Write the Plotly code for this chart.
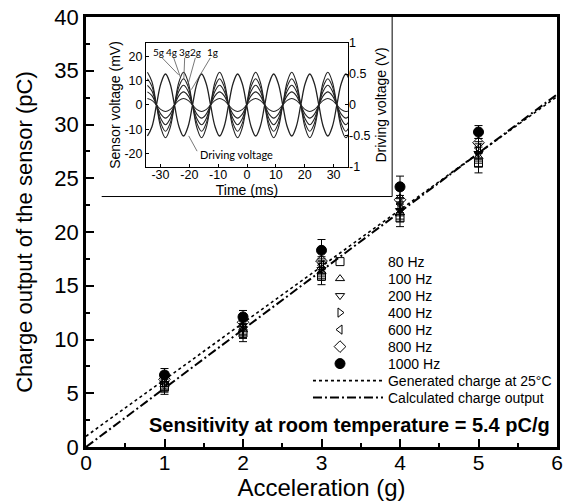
import plotly.graph_objects as go

# ---------------- main chart data ----------------
accel = [1, 2, 3, 4, 5]
freq_names = ["80 Hz", "100 Hz", "200 Hz", "400 Hz", "600 Hz", "800 Hz", "1000 Hz"]
charge_80 = [5.6, 10.6, 15.9, 21.3, 26.4]
charge_100 = [5.8, 10.9, 16.3, 21.8, 27.0]
charge_200 = [5.9, 11.0, 16.5, 22.0, 27.3]
charge_400 = [6.0, 11.2, 16.7, 22.3, 27.5]
charge_600 = [6.1, 11.3, 16.9, 22.6, 27.8]
charge_800 = [6.3, 11.6, 17.3, 23.0, 28.3]
charge_1000 = [6.7, 12.1, 18.3, 24.2, 29.3]
err_80 = [0.7, 0.8, 0.8, 0.8, 0.9]
err_100 = [0.7, 0.8, 0.8, 0.8, 0.9]
err_200 = [0.7, 0.8, 0.8, 0.8, 0.9]
err_400 = [0.7, 0.8, 0.8, 0.8, 0.9]
err_600 = [0.7, 0.8, 0.8, 0.8, 0.9]
err_800 = [0.7, 0.8, 0.8, 0.9, 0.9]
err_1000 = [0.6, 0.6, 1.0, 1.0, 0.6]

line_names = ["Generated charge at 25°C", "Calculated charge output"]
line_x = [0, 6]
generated_y = [1.0, 32.6]
calculated_y = [0.0, 32.8]

# ---------------- inset data ----------------
time_ms = [-34.50, -32.94, -31.38, -29.81, -28.25, -26.69, -25.13, -23.56,
           -22.00, -20.44, -18.88, -17.31, -15.75, -14.19, -12.63, -11.06,
           -9.50, -7.94, -6.38, -4.81, -3.25, -1.69, -0.13, 1.44,
           3.00, 4.56, 6.13, 7.69, 9.25, 10.81, 12.38, 13.94,
           15.50, 17.06, 18.63, 20.19, 21.75, 23.31, 24.88, 26.44,
           28.00, 29.56, 31.13, 32.69, 34.25, 35.81]
sensor_shape = [1, .71, 0, -.71, -1, -.71, 0, .71,
                1, .71, 0, -.71, -1, -.71, 0, .71,
                1, .71, 0, -.71, -1, -.71, 0, .71,
                1, .71, 0, -.71, -1, -.71, 0, .71,
                1, .71, 0, -.71, -1, -.71, 0, .71,
                1, .71, 0, -.71, -1, -.71]
sensor_amp_mV = [2.7, 5.4, 8.1, 10.8, 13.5]   # 1g .. 5g
driving_V = [-.5, -.35, 0, .35, .5, .35, 0, -.35,
             -.5, -.35, 0, .35, .5, .35, 0, -.35,
             -.5, -.35, 0, .35, .5, .35, 0, -.35,
             -.5, -.35, 0, .35, .5, .35, 0, -.35,
             -.5, -.35, 0, .35, .5, .35, 0, -.35,
             -.5, -.35, 0, .35, .5, .35]
g_labels = ["5g", "4g", "3g", "2g", "1g"]
g_label_t = [-30.5, -26.3, -21.6, -17.7, -12.1]

FONT = "Liberation Sans, Arial, sans-serif"
LABEL_FONT = "Lato, Noto Sans, sans-serif"
series = [charge_80, charge_100, charge_200, charge_400, charge_600, charge_800, charge_1000]
errors = [err_80, err_100, err_200, err_400, err_600, err_800, err_1000]
symbols = ["square-open", "triangle-up-open", "triangle-down-open", "triangle-right-open",
           "triangle-left-open", "diamond-open", "circle"]
sizes = [8, 8, 8, 8, 8, 9, 10]

# one legend box per entry so the entries can sit 17 px apart as in the original
legend_ids = ["legend"] + ["legend%d" % i for i in range(2, 10)]
legend_rows_px = [262, 279, 296, 313, 330, 347, 364, 381, 398]

fig = go.Figure()

fig.add_trace(go.Scatter(x=line_x, y=generated_y, mode="lines", name=line_names[0],
                         line=dict(color="black", width=1.6, dash="dot"), legend=legend_ids[7]))
fig.add_trace(go.Scatter(x=line_x, y=calculated_y, mode="lines", name=line_names[1],
                         line=dict(color="black", width=2, dash="9px,3px,2px,3px"), legend=legend_ids[8]))

for i, (name, ys, es, sym, sz) in enumerate(zip(freq_names, series, errors, symbols, sizes)):
    fig.add_trace(go.Scatter(
        x=accel, y=ys, mode="markers", name=name,
        marker=dict(symbol=sym, size=sz, color="black", line=dict(color="black", width=1)),
        error_y=dict(type="data", array=es, color="black", thickness=1, width=4),
        legend=legend_ids[i]))

# inset traces
for amp in sensor_amp_mV:
    fig.add_trace(go.Scatter(x=time_ms, y=[amp * s for s in sensor_shape], mode="lines",
                             line=dict(color="#222", width=1.1, shape="spline", smoothing=1.1),
                             xaxis="x2", yaxis="y2", showlegend=False, hoverinfo="skip"))
fig.add_trace(go.Scatter(x=time_ms, y=driving_V, mode="lines",
                         line=dict(color="#222", width=1.3, shape="spline", smoothing=1.1),
                         xaxis="x2", yaxis="y3", showlegend=False, hoverinfo="skip"))

axis_common = dict(showline=True, linecolor="black", mirror=True, showgrid=False, zeroline=False,
                   ticks="inside", tickcolor="black", automargin=False)

PLOT_TOP, PLOT_BOTTOM = 17, 447
legend_layout = {}
for k, (lid, row) in enumerate(zip(legend_ids, legend_rows_px)):
    is_marker_entry = k < len(freq_names)
    legend_layout[lid] = dict(x=0.4374 if is_marker_entry else 0.4713, xanchor="left",
                              y=(PLOT_BOTTOM - row) / (PLOT_BOTTOM - PLOT_TOP),
                              yanchor="middle", itemwidth=86 if is_marker_entry else 70,
                              bgcolor="rgba(0,0,0,0)", font=dict(size=14), tracegroupgap=0)

fig.update_layout(
    width=569, height=504,
    margin=dict(l=86, r=12, t=PLOT_TOP, b=504 - PLOT_BOTTOM),
    paper_bgcolor="white", plot_bgcolor="white",
    font=dict(family=FONT, color="black"),
    xaxis=dict(**axis_common, range=[0, 6], dtick=1, linewidth=2.5, ticklen=8, tickwidth=2,
               minor=dict(dtick=0.5, ticklen=4, tickwidth=1.5, ticks="inside", tickcolor="black"),
               tickfont=dict(size=21), ticklabelstandoff=-5,
               title=dict(text="Acceleration (g)", font=dict(size=24), standoff=6)),
    yaxis=dict(**axis_common, range=[0, 40], dtick=5, linewidth=2.5, ticklen=8, tickwidth=2,
               minor=dict(dtick=2.5, ticklen=4, tickwidth=1.5, ticks="inside", tickcolor="black"),
               tickfont=dict(size=22),
               title=dict(text="Charge output of the sensor (pC)", font=dict(size=22), standoff=16)),
    xaxis2=dict(**axis_common, domain=[0.1274, 0.5563], anchor="y2", range=[-35, 35],
                linewidth=1, ticklen=3,
                tickvals=[-30, -20, -10, 0, 10, 20, 30],
                ticktext=["-30", "-20", "-10", "0", "10", "20", "30"],
                tickfont=dict(size=12.5), ticklabelstandoff=-4,
                title=dict(text="Time (ms)", font=dict(size=14), standoff=0)),
    yaxis2=dict(**axis_common, domain=[0.6512, 0.9395], anchor="x2", range=[-25.5, 25.5],
                linewidth=1, ticklen=3,
                tickvals=[-20, -10, 0, 10, 20], ticktext=["-20", "-10", "0", "10", "20"],
                tickfont=dict(size=12.5), title=dict(text="Sensor voltage (mV)", font=dict(size=14), standoff=0)),
    yaxis3=dict(showline=False, showgrid=False, zeroline=False, ticks="inside", tickcolor="black",
                automargin=False,
                overlaying="y2", side="right", anchor="x2", range=[-1, 1], ticklen=3,
                tickvals=[-1, -0.5, 0, 0.5, 1], ticktext=["-1", "-0.5", "0", "0.5", "1"],
                tickfont=dict(size=12.5), title=dict(text="Driving voltage (V)", font=dict(size=14), standoff=6)),
    **legend_layout,
)

shapes = [
    # inset picture frame (bottom and right edges)
    dict(type="line", xref="x", yref="y", x0=0.2, x1=3.9, y0=23.3, y1=23.3, line=dict(color="black", width=1)),
    dict(type="line", xref="x", yref="y", x0=3.9, x1=3.9, y0=23.3, y1=40, line=dict(color="black", width=1)),
]
# pointer lines for the inset labels
pointer_from = [(-29.4, 19.4), (-25.4, 19.4), (-21.6, 19.4), (-17.9, 19.4), (-12.7, 19.4)]
pointer_to = [(-23.7, 12.4), (-23.1, 11.5), (-21.9, 10.6), (-20.4, 8.7), (-19.3, 6.3)]
for (fx, fy), (tx, ty) in zip(pointer_from, pointer_to):
    shapes.append(dict(type="line", xref="x2", yref="y2", x0=fx, y0=fy, x1=tx, y1=ty,
                       line=dict(color="#555", width=0.8)))
shapes.append(dict(type="line", xref="x2", yref="y2", x0=-17.3, y0=-19.0, x1=-20.2, y1=-12.7,
                   line=dict(color="#555", width=0.8)))
fig.update_layout(shapes=shapes)

annotations = [
    dict(text="<b>Sensitivity at room temperature = 5.4 pC/g</b>", x=3.36, y=2.05, xref="x", yref="y",
         showarrow=False, font=dict(size=20, family=FONT)),
    dict(text="Driving voltage", x=-16.9, y=-20.4, xref="x2", yref="y2", xanchor="left",
         showarrow=False, font=dict(size=11, family=LABEL_FONT)),
]
for lab, t in zip(g_labels, g_label_t):
    annotations.append(dict(text=lab, x=t, y=21.8, xref="x2", yref="y2", showarrow=False,
                            font=dict(size=10, family=LABEL_FONT)))
fig.update_layout(annotations=annotations)

fig.write_html("out.html", config={"displayModeBar": False},
               post_script="document.body.style.margin='0';document.body.style.overflow='hidden';")
